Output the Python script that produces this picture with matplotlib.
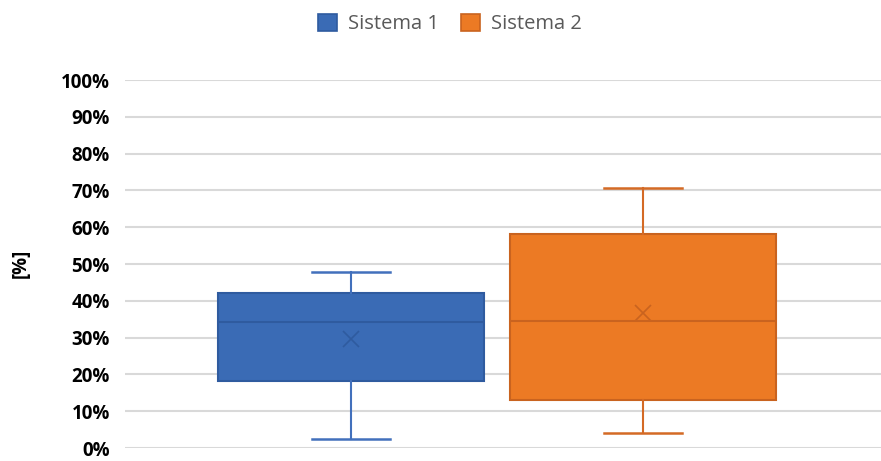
import matplotlib
matplotlib.use("Agg")
import matplotlib.pyplot as plt
from matplotlib.patches import Patch
from matplotlib.ticker import FuncFormatter, MultipleLocator

# Five-number summaries and means (fraction of 1) for each system
series = ["Sistema 1", "Sistema 2"]
minimum = [0.024, 0.041]
q1 = [0.182, 0.130]
median = [0.342, 0.345]
q3 = [0.421, 0.582]
maximum = [0.478, 0.707]
mean = [0.296, 0.367]

fills = ["#3A6BB5", "#EC7A24"]
edges = ["#2F5B9F", "#C9631F"]
whisker_colors = ["#4270BC", "#D46A25"]

fig = plt.figure(figsize=(8.81, 4.61), dpi=100)
ax = fig.add_axes([125 / 881, 13 / 461, 756 / 881, 368 / 461])

positions = [0.299, 0.685]
box_width = 0.352
cap_width = 0.104

stats = []
for i, name in enumerate(series):
    stats.append(dict(label=name, whislo=minimum[i], q1=q1[i], med=median[i],
                      q3=q3[i], whishi=maximum[i], mean=mean[i], fliers=[]))

for i, st in enumerate(stats):
    ax.bxp([st], positions=[positions[i]], widths=box_width, patch_artist=True,
           showmeans=True, meanline=False, showfliers=False,
           capwidths=cap_width,
           boxprops=dict(facecolor=fills[i], edgecolor=edges[i], linewidth=1.5),
           medianprops=dict(color=edges[i], linewidth=1.5),
           whiskerprops=dict(color=whisker_colors[i], linewidth=1.5),
           capprops=dict(color=whisker_colors[i], linewidth=1.8),
           meanprops=dict(marker="x", markersize=12, markeredgecolor=edges[i],
                          markeredgewidth=1.2),
           zorder=3)

ax.set_xlim(0, 1)
ax.set_ylim(0, 1)
ax.yaxis.set_major_locator(MultipleLocator(0.1))
ax.yaxis.set_major_formatter(FuncFormatter(lambda v, _: f"{v * 100:.0f}%"))
ax.grid(axis="y", color="#D9D9D9", linewidth=1.5, zorder=0)
ax.set_axisbelow(True)
for s in ax.spines.values():
    s.set_visible(False)
ax.set_xticks([])
ax.tick_params(axis="y", length=0, pad=11)
for lbl in ax.get_yticklabels():
    lbl.set_fontfamily("Open Sans")
    lbl.set_fontweight("bold")
    lbl.set_fontsize(13.5)
    lbl.set_color("#000000")

fig.text(21 / 881, 1 - 263 / 461, "[%]", rotation=90, ha="center", va="center",
         fontfamily="Open Sans", fontweight="bold", fontsize=13.5)

handles = [Patch(facecolor=fills[i], edgecolor=edges[i], linewidth=1.2, label=series[i])
           for i in range(2)]
leg = fig.legend(handles=handles, loc="center", bbox_to_anchor=(450 / 881, 1 - 24 / 461),
                 ncol=2, frameon=False, handlelength=0.95, handleheight=0.95,
                 handletextpad=0.55, columnspacing=1.1,
                 prop=dict(family="Open Sans", size=14.5))
for t in leg.get_texts():
    t.set_color("#595959")

fig.savefig("out.png", dpi=100)
